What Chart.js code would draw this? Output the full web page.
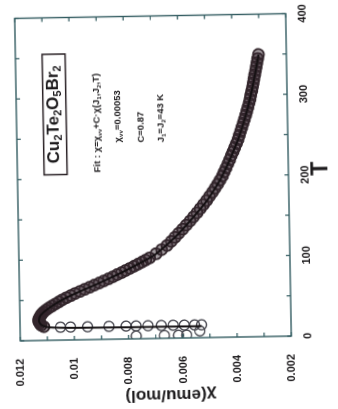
<!DOCTYPE html>
<html>
<head>
<meta charset="utf-8">
<script src="https://cdn.jsdelivr.net/npm/chart.js@4.4.1/dist/chart.umd.min.js"></script>
<style>
  html, body { margin: 0; padding: 0; background: #fff; overflow: hidden; }
  /* the figure is printed turned a quarter turn (plus a small scan tilt) */
  #wrap { position: absolute; left: -78px; top: 25px; width: 409px; height: 338px;
          transform-origin: 231px 152.5px; transform: rotate(-91deg); }
</style>
</head>
<body>
<div id="wrap"><canvas id="chi"></canvas></div>
<script>
// measured susceptibility (open circles)
const tempK = [17, 19, 21, 23, 25, 27, 29, 31, 33, 35, 37.5, 40, 42.5, 45, 47.5, 50, 52.5, 55, 57.5, 60,
  62.5, 65, 67.5, 70, 72.5, 75, 77.5, 80, 82.5, 85, 87.5, 90, 92.5, 95, 97.5, 100,
  105, 110, 115, 120, 125, 130, 135, 140, 145, 150, 155, 160, 165, 170, 175, 180, 185, 190, 195, 200,
  205, 210, 215, 220, 225, 230, 235, 240, 245, 250, 255, 260, 265, 270, 275, 280, 285, 290, 295, 300,
  305, 310, 315, 320, 325, 330, 335, 340, 345, 350];
const chiMeas = [0.01112, 0.01122, 0.01127, 0.01130, 0.01131, 0.01130, 0.01127, 0.01123, 0.01119, 0.01113,
  0.01104, 0.01093, 0.01081, 0.01068, 0.01055, 0.01042, 0.01027, 0.01011, 0.00995, 0.00977,
  0.00959, 0.00941, 0.00923, 0.00905, 0.00888, 0.00871, 0.00854, 0.00838, 0.00822, 0.00807,
  0.00791, 0.00776, 0.00761, 0.00746, 0.00732, 0.00718,
  0.00694, 0.00673, 0.00653, 0.00637, 0.00623, 0.00609, 0.00594, 0.00580, 0.00566, 0.00553,
  0.00540, 0.00528, 0.00516, 0.00504, 0.00493, 0.00482, 0.00472, 0.00462, 0.00453, 0.00444,
  0.00437, 0.00430, 0.00423, 0.00416, 0.00410, 0.00403, 0.00397, 0.00390, 0.00384, 0.00379,
  0.00374, 0.00369, 0.00364, 0.00359, 0.00354, 0.00350, 0.00345, 0.00341, 0.00337, 0.00334,
  0.00330, 0.00327, 0.00324, 0.00321, 0.00318, 0.00315, 0.00312, 0.00309, 0.00306, 0.00303];

// low temperature points below the maximum
const lowT = [16, 16, 16, 16, 16, 16, 16, 16, 16, 16, 16, 16, 3.5, 3.5, 3.5, 3.5, 8.5];
const lowChi = [0.01051, 0.01014, 0.00951, 0.00872, 0.00809, 0.00772, 0.00728, 0.00679, 0.00635,
  0.00594, 0.00556, 0.00530, 0.00772, 0.00668, 0.00616, 0.00586, 0.00537];

// fit curve chi = chi_vv + C*chi(J1,J2,T)
const fitT = [14.3, 14.5, 15, 16, 18, 21, 25, 31, 40, 51, 60, 69, 80, 88, 100, 106, 126, 153, 171,
  203, 244, 285, 318, 350];
const fitChi = [0.00530, 0.00800, 0.01000, 0.01090, 0.01115, 0.01126, 0.01130, 0.01124, 0.01092,
  0.01037, 0.00977, 0.00912, 0.00838, 0.00788, 0.00718, 0.00689, 0.00620, 0.00545, 0.00500,
  0.00440, 0.00385, 0.00345, 0.00322, 0.00303];

const tTicks = [0, 50, 100, 150, 200, 250, 300, 350, 400];
const chiTicks = [0.002, 0.003, 0.004, 0.005, 0.006, 0.007, 0.008, 0.009, 0.010, 0.011, 0.012];

const FONT = '"Liberation Sans", Arial, sans-serif';
const ink = '#1c1a1c';
const frameColor = '#335c61';

function pts(xs, ys) { return xs.map((x, i) => ({ x: x, y: ys[i] })); }

// text with subscripts: plain strings normal, [str] subscript
function drawRich(ctx, parts, x, y, size, measureOnly) {
  let cx = x;
  parts.forEach(p => {
    const sub = Array.isArray(p);
    const s = sub ? p[0] : p;
    ctx.font = 'bold ' + (sub ? size * 0.65 : size) + 'px ' + FONT;
    if (!measureOnly) ctx.fillText(s, cx, sub ? y + size * 0.3 : y);
    cx += ctx.measureText(s).width;
  });
  return cx - x;
}

const decor = {
  id: 'decor',
  afterDraw(chart) {
    const { ctx, chartArea: a, scales: { x, y } } = chart;
    ctx.save();
    // frame with inward ticks on all sides
    ctx.strokeStyle = frameColor;
    ctx.lineWidth = 1.4;
    ctx.strokeRect(a.left, a.top, a.right - a.left, a.bottom - a.top);
    ctx.lineWidth = 1.2;
    ctx.beginPath();
    tTicks.forEach(v => {
      const px = x.getPixelForValue(v);
      ctx.moveTo(px, a.bottom); ctx.lineTo(px, a.bottom - 4);
      ctx.moveTo(px, a.top); ctx.lineTo(px, a.top + 4);
    });
    chiTicks.forEach(v => {
      const py = y.getPixelForValue(v);
      ctx.moveTo(a.left, py); ctx.lineTo(a.left + 4, py);
      ctx.moveTo(a.right, py); ctx.lineTo(a.right - 4, py);
    });
    ctx.stroke();

    ctx.fillStyle = ink;
    ctx.textBaseline = 'middle';
    ctx.textAlign = 'left';

    // compound label in a box
    const bx = a.left + 165.5, by = a.top + 26.7, bw = 120.5, bh = 23;
    ctx.strokeStyle = '#2a2226';
    ctx.lineWidth = 1.5;
    ctx.strokeRect(bx, by, bw, bh);
    const formula = ['Cu', ['2'], 'Te', ['2'], 'O', ['5'], 'Br', ['2']];
    const fw = drawRich(ctx, formula, 0, 0, 17, true);
    drawRich(ctx, formula, bx + (bw - fw) / 2, by + bh / 2 - 1, 17);

    // fit parameters
    drawRich(ctx, ['Fit : χ=χ', ['vv'], '+C·χ(J', ['1'], ',J', ['2'], ',T)'], a.left + 167, a.top + 80.6, 9.5);
    drawRich(ctx, ['χ', ['vv'], '=0.00053'], a.left + 196.6, a.top + 101, 9.5);
    drawRich(ctx, ['C=0.87'], a.left + 196.2, a.top + 124, 9.5);
    drawRich(ctx, ['J', ['1'], '=J', ['2'], '=43 K'], a.left + 195.9, a.top + 144, 9.5);

    // axis titles
    ctx.textAlign = 'center';
    ctx.font = 'bold 23px ' + FONT;
    ctx.fillText('T', 237, 320.6);
    ctx.save();
    ctx.translate(13.7, 166.7);
    ctx.rotate(-Math.PI / 2);
    ctx.font = 'bold 17px ' + FONT;
    ctx.fillText('χ(emu/mol)', 0, 0);
    ctx.restore();
    ctx.restore();
  }
};

new Chart(document.getElementById('chi'), {
  type: 'scatter',
  data: {
    datasets: [
      {
        label: 'fit',
        data: pts(fitT, fitChi),
        showLine: true,
        borderColor: '#141012',
        borderWidth: 2,
        pointRadius: 0,
        tension: 0.25,
        order: 0
      },
      {
        label: 'data',
        data: pts(tempK, chiMeas),
        pointStyle: 'circle',
        pointRadius: 5.5,
        borderWidth: 1.8,
        borderColor: '#33262c',
        backgroundColor: 'rgba(52,36,44,0.45)',
        order: 1
      },
      {
        label: 'data low T',
        data: pts(lowT, lowChi),
        pointStyle: 'circle',
        pointRadius: 5,
        borderWidth: 1.4,
        borderColor: '#4a4a52',
        backgroundColor: 'rgba(0,0,0,0)',
        order: 2
      }
    ]
  },
  options: {
    responsive: true,
    maintainAspectRatio: false,
    animation: false,
    events: [],
    layout: { padding: { left: 0, top: 17, right: 16.5, bottom: 0 } },
    plugins: { legend: { display: false }, tooltip: { enabled: false } },
    scales: {
      x: {
        type: 'linear', position: 'bottom', min: 0, max: 400,
        grid: { display: false }, border: { display: false },
        afterBuildTicks: s => { s.ticks = tTicks.map(v => ({ value: v })); },
        afterFit: s => { s.height = 50; },
        ticks: {
          autoSkip: false, maxRotation: 0, padding: 2, color: ink,
          font: { family: FONT, size: 11, weight: 'bold' },
          callback: v => (v % 100 === 0 ? String(v) : '')
        }
      },
      y: {
        type: 'linear', position: 'left', min: 0.002, max: 0.012,
        grid: { display: false }, border: { display: false },
        afterBuildTicks: s => { s.ticks = chiTicks.map(v => ({ value: v })); },
        afterFit: s => { s.width = 70; },
        ticks: {
          autoSkip: false, padding: 10, color: ink,
          font: { family: FONT, size: 11, weight: 'bold' },
          callback: v => (Math.round(v * 1000) % 2 === 0 ? String(+v.toFixed(3)) : '')
        }
      }
    }
  },
  plugins: [decor]
});
</script>
</body>
</html>
